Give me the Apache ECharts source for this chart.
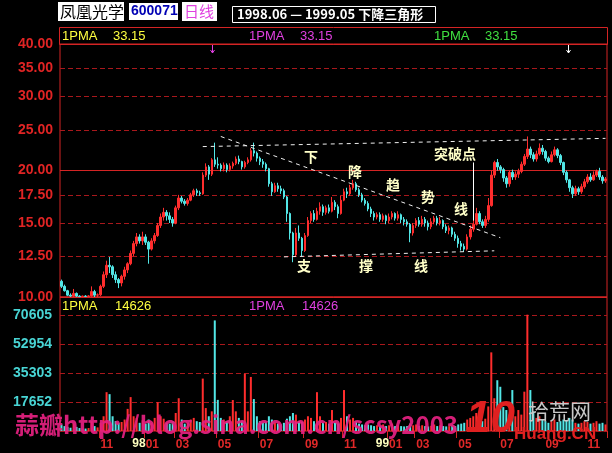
<!DOCTYPE html>
<html><head><meta charset="utf-8">
<script src="https://cdn.jsdelivr.net/npm/echarts@6/dist/echarts.min.js"></script>
<style>html,body{margin:0;padding:0;background:#000}#c{width:612px;height:453px}</style>
</head><body><div id="c"></div>
<script>
// [open, close, low, high]
const candles = [
[10.9,10.6,10.5,11.0],[10.6,10.35,10.3,10.7],[10.35,10.1,10.05,10.4],[10.1,10.05,10.0,10.2],[10.05,10.2,10.0,10.45],
[10.2,10.05,10.0,10.25],[10.05,10.02,10.0,10.1],[10.02,10.05,10.0,10.08],[10.05,10.03,10.0,10.1],[10.03,10.06,10.0,10.1],
[10.06,10.3,10.02,10.6],[10.3,10.1,10.0,10.4],[10.1,10.12,10.0,10.2],[10.12,10.6,10.05,10.7],[10.6,11.3,10.5,11.5],
[11.3,11.9,11.1,12.2],[11.9,11.8,11.4,12.45],[11.8,11.3,11.1,11.9],[11.3,11.0,10.8,11.5],[11.0,10.8,10.5,11.1],
[10.8,11.2,10.6,11.3],[11.2,11.6,11.0,11.8],[11.6,12.0,11.4,12.1],[12.0,12.7,11.9,12.9],[12.7,13.4,12.5,13.6],
[13.4,13.9,13.2,14.2],[13.9,13.6,13.4,14.1],[13.6,13.9,13.3,14.3],[13.9,13.5,13.3,14.1],[13.5,13.0,12.0,13.6],
[13.0,13.6,12.9,13.8],[13.6,14.0,13.4,14.2],[14.0,14.8,13.9,15.0],[14.8,15.5,14.6,15.8],[15.5,15.9,15.2,16.3],
[15.9,15.6,15.2,16.1],[15.6,15.3,15.0,15.9],[15.3,15.0,14.7,15.5],[15.0,16.3,14.9,16.5],[16.3,17.2,16.1,17.5],
[17.2,16.9,16.7,17.4],[16.9,16.7,16.5,17.1],[16.7,17.0,16.5,17.2],[17.0,17.5,16.9,17.7],[17.5,17.9,17.3,18.1],
[17.9,17.7,17.4,18.1],[17.7,17.6,17.4,17.9],[17.6,19.5,17.5,19.8],[19.5,20.4,19.3,20.8],[20.4,19.6,19.0,20.6],
[19.6,21.2,19.4,21.4],[21.2,20.7,20.4,23.3],[20.7,20.6,20.2,21.5],[20.6,20.2,19.9,20.8],[20.2,20.6,19.9,20.9],
[20.6,20.1,19.8,20.8],[20.1,20.5,19.9,20.8],[20.5,20.8,20.2,21.0],[20.8,21.3,20.6,21.6],[21.3,21.0,20.7,21.7],
[21.0,20.4,20.1,21.1],[20.4,20.9,20.2,21.1],[20.9,21.2,20.7,21.5],[21.2,22.3,21.0,22.6],[22.3,22.0,21.6,23.3],
[22.0,21.4,21.0,22.2],[21.4,21.0,20.6,21.6],[21.0,20.7,20.3,21.3],[20.7,20.2,19.9,20.9],[20.2,18.6,18.3,20.3],
[18.6,17.8,17.4,18.8],[17.8,18.4,17.7,18.7],[18.4,18.1,17.8,18.7],[18.1,17.9,17.6,18.4],[17.9,17.3,17.1,18.1],
[17.3,15.8,15.1,17.4],[15.8,14.2,13.7,15.9],[14.2,12.6,12.1,14.3],[12.6,14.2,12.5,14.6],[14.2,13.8,13.6,14.8],
[13.8,12.9,12.5,13.9],[12.9,14.0,12.8,14.2],[14.0,15.2,13.9,15.5],[15.2,15.8,15.0,16.0],[15.8,15.3,15.1,16.1],
[15.3,16.0,15.2,16.3],[16.0,16.4,15.7,16.8],[16.4,15.9,15.6,16.6],[15.9,16.3,15.7,16.5],[16.3,16.0,15.8,16.6],
[16.0,16.8,15.9,17.3],[16.8,16.4,16.1,17.0],[16.4,15.8,15.4,16.6],[15.8,17.0,15.7,17.4],[17.0,17.8,16.9,18.1],
[17.8,17.6,17.2,18.2],[17.6,18.2,17.4,18.5],[18.2,18.6,18.0,19.0],[18.6,18.0,17.8,18.8],[18.0,17.5,17.3,18.2],
[17.5,17.0,16.8,17.7],[17.0,16.7,16.5,17.2],[16.7,16.2,16.0,16.9],[16.2,15.8,15.5,16.4],[15.8,15.5,15.2,16.0],
[15.5,15.7,15.3,15.9],[15.7,15.3,15.1,15.9],[15.3,15.6,15.1,15.8],[15.6,15.2,14.9,15.7],[15.2,15.5,15.0,15.8],
[15.5,15.8,15.3,16.0],[15.8,15.4,15.2,15.9],[15.4,15.7,15.2,16.0],[15.7,15.3,15.0,15.8],[15.3,15.1,14.8,15.5],
[15.1,14.9,14.7,15.3],[14.9,14.2,13.5,15.0],[14.2,14.8,14.0,15.0],[14.8,15.2,14.6,15.4],[15.2,14.9,14.7,15.5],
[14.9,15.3,14.7,15.6],[15.3,15.0,14.7,15.5],[15.0,14.7,14.4,15.2],[14.7,15.1,14.5,15.4],[15.1,15.4,14.9,15.6],
[15.4,15.0,14.8,15.6],[15.0,15.2,14.8,15.5],[15.2,14.7,14.5,15.3],[14.7,14.4,14.2,14.9],[14.4,14.6,14.1,14.8],
[14.6,14.1,13.9,14.7],[14.1,13.8,13.6,14.3],[13.8,13.4,13.1,14.0],[13.4,13.2,12.9,13.6],[13.2,13.0,12.8,13.4],
[13.0,13.9,12.9,14.1],[13.9,14.5,13.7,14.8],[14.5,14.9,14.3,15.3],[14.9,15.8,14.8,16.3],[15.8,15.1,14.9,16.0],
[15.1,14.8,14.6,15.3],[14.8,15.3,14.6,15.6],[15.3,16.5,15.1,17.2],[16.5,19.5,16.4,20.0],[19.5,20.9,19.2,21.1],
[20.9,20.4,20.0,21.3],[20.4,20.1,19.7,20.6],[20.1,19.2,18.8,20.3],[19.2,18.6,18.2,19.4],[18.6,19.8,18.3,20.0],
[19.8,19.3,19.0,20.1],[19.3,19.6,19.0,19.9],[19.6,19.9,19.2,20.2],[19.9,20.7,19.7,21.0],[20.7,21.6,20.5,21.9],
[21.6,22.5,21.3,24.1],[22.5,21.8,21.4,22.8],[21.8,21.3,21.0,22.1],[21.3,21.9,21.0,22.3],[21.9,22.6,21.7,23.2],
[22.6,22.2,21.8,23.0],[22.2,21.4,21.1,22.4],[21.4,21.0,20.8,21.6],[21.0,21.8,20.9,22.2],[21.8,22.4,21.6,22.8],
[22.4,21.7,21.4,22.6],[21.7,20.9,20.6,21.9],[20.9,19.8,19.5,21.0],[19.8,19.0,18.7,20.0],[19.0,18.2,17.8,19.1],
[18.2,17.6,17.2,18.4],[17.6,18.1,17.4,18.4],[18.1,17.8,17.5,18.3],[17.8,18.3,17.6,18.6],[18.3,18.8,18.1,19.1],
[18.8,19.3,18.6,19.6],[19.3,19.0,18.8,19.7],[19.0,19.5,18.9,19.9],[19.5,19.9,19.3,20.1],[19.9,19.3,19.0,20.3],
[19.3,18.9,18.6,19.5],[18.9,19.1,18.7,19.3]
];
const volumes = [
4000,3000,2500,2000,4500,2500,1800,1600,1500,1800,
6000,3000,2200,5000,9000,23700,22500,9000,6000,5000,
5500,7000,13500,20700,9000,8000,5000,6500,4500,7000,
5000,8000,17600,9000,7500,5000,4500,6000,11000,20000,
7000,4500,5000,7000,8000,6000,5500,32000,14000,9000,
12000,67500,19000,8000,7000,6000,9000,18900,12000,8000,
6000,35000,12000,33000,19500,9000,6000,5000,5500,9000,
7000,5000,4500,4000,5000,7500,9000,11000,10000,6000,
5500,7000,9000,8000,6000,23700,9000,5000,5500,4500,
12800,5000,4500,8000,25000,9000,7000,8000,6000,4500,
4000,3500,4000,3500,3000,3500,3000,4000,3000,3500,
4500,3000,3500,3000,2800,3000,4500,3500,4000,3000,
3500,3000,2800,3200,4000,3000,3500,3000,2800,3000,
3500,3000,4000,4500,5000,7000,8000,9000,11000,7000,
6000,7500,15000,48000,20000,31000,27000,14600,12800,10000,
25000,9000,12800,10000,24000,71000,25000,12000,8000,9000,
7000,6000,5000,6000,7000,5500,6000,7000,6500,8000,
7000,5000,4500,5000,6000,5500,4500,5000,6000,4500,
5000,4000
];
const priceTicks = [10, 12.5, 15, 17.5, 20, 25, 30, 35, 40];
const volTicks = [17652, 35303, 52954, 70605];
const monthIdx = [13, 28, 38, 52, 66, 81, 94, 109, 118, 132, 146, 161, 175];
const monthLabels = ['11','01','03','05','07','09','11','01','03','05','07','09','11'];
const yearIdx = [28, 109];
const yearLabels = ['98', '99'];
// annotation lines: [index, price]
const downTrend = [[53, 24.1], [146, 13.84]];
const topLine = [[47, 22.8], [181, 23.85]];
const supportLine = [[74, 12.46], [144, 12.88]];
const breakLine = [[137, 20.9], [137, 15.2]];

const RED = '#ff2d2d', CYAN = '#52e6e6', GRIDRED = '#a8181c', BORDER = '#d42424';
const cats = candles.map((_, i) => String(i));
const volData = volumes.map((v, i) => ({
  value: v,
  itemStyle: { color: candles[i][1] >= candles[i][0] ? RED : CYAN }
}));
const numFont = '"Liberation Sans", Arial, sans-serif';
const cjk = '"Noto Sans CJK SC", sans-serif';

const chart = echarts.init(document.getElementById('c'));
const txt = (x, y, t, fill, font, align) => ({
  type: 'text', x, y, z: 50,
  style: { text: t, fill, font, textAlign: align || 'left', textVerticalAlign: 'middle' }
});
const dashed = { color: '#f0f0f0', type: [4, 4], width: 1 };

const graphics = [
  // title row
  { type: 'rect', shape: { x: 58, y: 2, width: 66, height: 19 }, style: { fill: '#ffffff' }, z: 40 },
  txt(60, 11.5, '凤凰光学', '#000000', '16px ' + cjk),
  { type: 'rect', shape: { x: 129, y: 3, width: 49, height: 17 }, style: { fill: '#ffffff' }, z: 40 },
  txt(131, 11.5, '600071', '#0000b4', 'bold 14px ' + numFont),
  { type: 'rect', shape: { x: 182, y: 2, width: 35, height: 19 }, style: { fill: '#ffffff' }, z: 40 },
  txt(184, 11.5, '日线', '#e040e0', '15px ' + cjk),
  { type: 'rect', shape: { x: 232.5, y: 6.5, width: 203, height: 16 }, style: { fill: '#000', stroke: '#ffffff', lineWidth: 1 }, z: 40 },
  txt(237, 14.5, '1998.06 — 1999.05 下降三角形', '#ffffff', 'bold 13px ' + cjk),
  // header row box
  { type: 'rect', shape: { x: 59.5, y: 27.5, width: 548, height: 17 }, style: { fill: 'none', stroke: BORDER, lineWidth: 1 }, z: 40 },
  txt(62, 36, '1PMA', '#ffff40', '13px ' + numFont), txt(113, 36, '33.15', '#ffff40', '13px ' + numFont),
  txt(249, 36, '1PMA', '#e040e0', '13px ' + numFont), txt(300, 36, '33.15', '#e040e0', '13px ' + numFont),
  txt(434, 36, '1PMA', '#40e040', '13px ' + numFont), txt(485, 36, '33.15', '#40e040', '13px ' + numFont),
  // volume header
  txt(62, 306, '1PMA', '#ffff40', '13px ' + numFont), txt(115, 306, '14626', '#ffff40', '13px ' + numFont),
  txt(249, 306, '1PMA', '#e040e0', '13px ' + numFont), txt(302, 306, '14626', '#e040e0', '13px ' + numFont),
  // little arrows
  { type: 'polyline', shape: { points: [[212.5, 45], [212.5, 53]] }, style: { stroke: '#e040e0', lineWidth: 1 }, z: 40 },
  { type: 'polyline', shape: { points: [[210.5, 50], [212.5, 53], [214.5, 50]] }, style: { stroke: '#e040e0', fill: 'none', lineWidth: 1 }, z: 40 },
  { type: 'polyline', shape: { points: [[568.5, 45], [568.5, 53]] }, style: { stroke: '#ffffff', lineWidth: 1 }, z: 40 },
  { type: 'polyline', shape: { points: [[566.5, 50], [568.5, 53], [570.5, 50]] }, style: { stroke: '#ffffff', fill: 'none', lineWidth: 1 }, z: 40 },
  // annotations
  txt(311, 157, '下', '#ffffc8', 'bold 14px ' + cjk, 'center'),
  txt(355, 172, '降', '#ffffc8', 'bold 14px ' + cjk, 'center'),
  txt(393, 185, '趋', '#ffffc8', 'bold 14px ' + cjk, 'center'),
  txt(428, 197, '势', '#ffffc8', 'bold 14px ' + cjk, 'center'),
  txt(461, 209, '线', '#ffffc8', 'bold 14px ' + cjk, 'center'),
  txt(455, 154, '突破点', '#ffffc8', 'bold 14px ' + cjk, 'center'),
  txt(304, 266, '支', '#ffffc8', 'bold 14px ' + cjk, 'center'),
  txt(366, 266, '撑', '#ffffc8', 'bold 14px ' + cjk, 'center'),
  txt(421, 266, '线', '#ffffc8', 'bold 14px ' + cjk, 'center'),
  // watermark & logo
  txt(15, 425, '蒜瓣http://blog.sina.com.cn/scsy2003', 'rgba(228,32,128,0.93)', 'bold 24px ' + cjk),
  txt(466, 420, '10', '#e02020', 'italic bold 44px ' + numFont),
  txt(528, 411, '拾荒网', '#c8c8c8', '21px ' + cjk),
  txt(514, 434, 'Huang.CN', '#e02020', 'bold 17px ' + numFont)
];

if (candles.length !== volumes.length) {
  graphics.push(txt(200, 200, 'LEN MISMATCH ' + candles.length + ' ' + volumes.length, '#fff', '20px sans-serif'));
}

chart.setOption({
  backgroundColor: '#000000',
  animation: false,
  grid: [
    { left: 60, top: 44, width: 547, height: 253, show: true, borderColor: BORDER, borderWidth: 1, backgroundColor: 'transparent' },
    { left: 60, top: 297, width: 547, height: 134, show: true, borderColor: BORDER, borderWidth: 1, backgroundColor: 'transparent' }
  ],
  xAxis: [
    { type: 'category', gridIndex: 0, data: cats, axisLine: { show: false }, axisTick: { show: false }, axisLabel: { show: false }, splitLine: { show: false } },
    { type: 'category', gridIndex: 1, position: 'bottom', offset: 0, data: cats, axisLine: { show: false },
      axisTick: { show: true, interval: (i) => monthIdx.includes(i), length: 7, lineStyle: { color: BORDER } },
      axisLabel: { show: true, interval: (i) => monthIdx.includes(i), formatter: (v, i) => monthLabels[monthIdx.indexOf(i)] || '',
        align: 'left', margin: 8, color: '#e02828', fontSize: 12, fontWeight: 'bold', fontFamily: 'Liberation Sans' },
      splitLine: { show: false } },
    { type: 'category', gridIndex: 1, position: 'bottom', offset: 0, data: cats, axisLine: { show: false }, axisTick: { show: false },
      axisLabel: { show: true, interval: (i) => yearIdx.includes(i), formatter: (v, i) => yearLabels[yearIdx.indexOf(i)] || '',
        align: 'right', margin: 7, color: '#ffffc0', fontSize: 12, fontWeight: 'bold', fontFamily: 'Liberation Sans' },
      splitLine: { show: false } }
  ],
  yAxis: [
    { type: 'log', logBase: 10, gridIndex: 0, min: 10, max: 40, axisLine: { show: false }, axisTick: { show: false }, axisLabel: { show: false }, splitLine: { show: false } },
    { type: 'value', gridIndex: 1, min: 0, max: 81800, interval: 17651.25, axisLine: { show: false }, axisTick: { show: false },
      axisLabel: { formatter: (v) => { const t = volTicks.find(t => Math.abs(t - v) < 1.5); return t ? String(t) : ''; },
        color: '#48d4d4', fontSize: 14, fontWeight: 'bold', margin: 8, fontFamily: 'Liberation Sans' },
      splitLine: { show: true, lineStyle: { color: GRIDRED, type: [5, 3], width: 1 } } }
  ],
  series: [
    { type: 'line', xAxisIndex: 0, yAxisIndex: 0, data: [], silent: true,
      markLine: { z: 1, silent: true, symbol: 'none', animation: false,
        label: { show: true, position: 'start', distance: 7, color: '#e02424', fontSize: 14, fontWeight: 'bold', fontFamily: 'Liberation Sans',
          formatter: (p) => Number(p.value).toFixed(2) },
        data: priceTicks.map(v => ({ yAxis: v, lineStyle: {
          color: (v === 20 || v === 10 || v === 40) ? BORDER : GRIDRED,
          type: (v === 20 || v === 10 || v === 40) ? 'solid' : [5, 3], width: 1 } })) } },
    { type: 'candlestick', xAxisIndex: 0, yAxisIndex: 0, data: candles, barWidth: 2,
      itemStyle: { color: RED, color0: CYAN, borderColor: RED, borderColor0: CYAN, borderWidth: 1 },
      markLine: { silent: true, symbol: 'none', animation: false, label: { show: false },
        lineStyle: dashed,
        data: [
          [{ coord: downTrend[0] }, { coord: downTrend[1] }],
          [{ coord: topLine[0] }, { coord: topLine[1] }],
          [{ coord: supportLine[0] }, { coord: supportLine[1] }],
          [{ coord: breakLine[0], lineStyle: { color: '#ffffff', type: 'solid', width: 1 } }, { coord: breakLine[1] }]
        ] } },
    { type: 'bar', xAxisIndex: 1, yAxisIndex: 1, data: volData, barWidth: 2 }
  ],
  graphic: graphics
});
</script></body></html>
